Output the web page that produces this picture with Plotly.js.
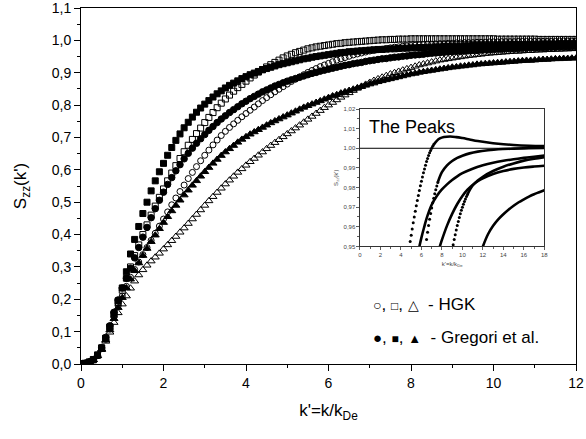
<!DOCTYPE html>
<html>
<head>
<meta charset="utf-8">
<script src="https://cdn.plot.ly/plotly-3.0.1.min.js"></script>
<style>html,body{margin:0;padding:0;background:#fff;}#chart{width:586px;height:439px;}</style>
</head>
<body>
<div id="chart"></div>
<script>
// ---------- main panel: k' values (shared) ----------
const kMain = [0,0.1,0.2,0.3,0.4,0.5,0.6,0.7,0.8,0.9,1,1.1,1.2,1.3,1.4,1.5,1.6,1.7,1.8,1.9,2,2.1,2.2,2.3,2.4,2.5,2.6,2.7,2.8,2.9,3,3.1,3.2,3.3,3.4,3.5,3.6,3.7,3.8,3.9,4,4.1,4.2,4.3,4.4,4.5,4.6,4.7,4.8,4.9,5,5.1,5.2,5.3,5.4,5.5,5.6,5.7,5.8,5.9,6,6.1,6.2,6.3,6.4,6.5,6.6,6.7,6.8,6.9,7,7.1,7.2,7.3,7.4,7.5,7.6,7.7,7.8,7.9,8,8.1,8.2,8.3,8.4,8.5,8.6,8.7,8.8,8.9,9,9.1,9.2,9.3,9.4,9.5,9.6,9.7,9.8,9.9,10,10.1,10.2,10.3,10.4,10.5,10.6,10.7,10.8,10.9,11,11.1,11.2,11.3,11.4,11.5,11.6,11.7,11.8,11.9,12];

// HGK (open markers)
const hgkSquares = [0,0.002,0.006,0.013,0.027,0.049,0.079,0.113,0.152,0.19,
0.228,0.265,0.3,0.335,0.368,0.4,0.43,0.46,0.488,0.515,
0.541,0.566,0.59,0.613,0.635,0.656,0.676,0.694,0.712,0.729,
0.746,0.762,0.777,0.792,0.806,0.819,0.831,0.843,0.854,0.864,
0.874,0.884,0.893,0.902,0.91,0.918,0.925,0.932,0.939,0.946,
0.952,0.957,0.962,0.966,0.97,0.974,0.977,0.98,0.982,0.984,
0.986,0.988,0.99,0.991,0.993,0.994,0.995,0.996,0.997,0.998,
0.999,1,1.001,1.002,1.002,1.003,1.003,1.004,1.004,1.004,
1.005,1.005,1.005,1.005,1.005,1.005,1.005,1.005,1.005,1.005,
1.005,1.005,1.005,1.005,1.005,1.005,1.005,1.005,1.005,1.005,
1.005,1.004,1.004,1.004,1.004,1.004,1.004,1.004,1.004,1.004,
1.004,1.003,1.003,1.003,1.003,1.003,1.003,1.003,1.003,1.003,
1.003];
const hgkCircles = [0,0.002,0.006,0.013,0.026,0.047,0.076,0.108,0.145,0.18,
0.21,0.24,0.268,0.292,0.315,0.338,0.36,0.382,0.404,0.426,
0.448,0.47,0.492,0.513,0.533,0.553,0.573,0.592,0.61,0.628,
0.645,0.661,0.677,0.692,0.706,0.719,0.731,0.742,0.753,0.764,
0.774,0.784,0.794,0.804,0.814,0.823,0.832,0.841,0.849,0.857,
0.865,0.873,0.88,0.887,0.894,0.901,0.907,0.913,0.919,0.924,
0.929,0.934,0.939,0.943,0.947,0.951,0.955,0.958,0.961,0.964,
0.967,0.969,0.971,0.973,0.975,0.977,0.979,0.98,0.982,0.983,
0.984,0.985,0.986,0.987,0.988,0.988,0.989,0.99,0.99,0.991,
0.991,0.992,0.992,0.993,0.993,0.993,0.994,0.994,0.994,0.995,
0.995,0.995,0.996,0.996,0.996,0.996,0.997,0.997,0.997,0.997,
0.997,0.997,0.997,0.997,0.997,0.997,0.998,0.998,0.998,0.998,
0.998];
const hgkTriangles = [0,0.002,0.006,0.013,0.025,0.044,0.07,0.098,0.128,0.158,
0.185,0.21,0.234,0.256,0.275,0.291,0.305,0.318,0.33,0.342,
0.355,0.368,0.381,0.394,0.407,0.42,0.434,0.448,0.462,0.476,
0.49,0.504,0.517,0.53,0.543,0.556,0.568,0.58,0.592,0.603,
0.614,0.625,0.635,0.645,0.655,0.665,0.675,0.684,0.693,0.702,
0.711,0.72,0.729,0.738,0.747,0.756,0.765,0.774,0.783,0.792,
0.8,0.808,0.816,0.824,0.831,0.838,0.845,0.852,0.858,0.864,
0.87,0.876,0.881,0.886,0.891,0.896,0.9,0.904,0.908,0.912,
0.916,0.92,0.924,0.927,0.93,0.933,0.936,0.939,0.941,0.943,
0.945,0.947,0.949,0.951,0.953,0.954,0.956,0.957,0.959,0.96,
0.961,0.962,0.963,0.964,0.965,0.966,0.966,0.967,0.968,0.968,
0.969,0.97,0.97,0.971,0.971,0.972,0.972,0.973,0.973,0.974,
0.974];

// Gregori et al. (filled markers)
const gregSquares = [0,0.002,0.006,0.014,0.028,0.05,0.08,0.115,0.155,0.195,
0.235,0.285,0.34,0.385,0.425,0.465,0.5,0.535,0.566,0.594,
0.62,0.645,0.669,0.691,0.711,0.73,0.747,0.763,0.778,0.791,
0.803,0.814,0.825,0.835,0.844,0.853,0.861,0.868,0.875,0.882,
0.888,0.894,0.899,0.904,0.909,0.913,0.917,0.921,0.925,0.928,
0.931,0.934,0.937,0.94,0.943,0.945,0.948,0.95,0.952,0.954,
0.956,0.958,0.96,0.962,0.963,0.965,0.966,0.967,0.968,0.969,
0.97,0.971,0.972,0.972,0.973,0.974,0.974,0.975,0.976,0.976,
0.977,0.977,0.978,0.978,0.979,0.979,0.98,0.98,0.981,0.981,
0.982,0.982,0.982,0.983,0.983,0.984,0.984,0.984,0.985,0.985,
0.985,0.986,0.986,0.986,0.987,0.987,0.987,0.987,0.988,0.988,
0.988,0.988,0.989,0.989,0.989,0.989,0.99,0.99,0.99,0.99,
0.99];
const gregCircles = [0,0.002,0.006,0.013,0.027,0.05,0.082,0.118,0.16,0.198,
0.235,0.265,0.296,0.328,0.36,0.392,0.422,0.452,0.48,0.506,
0.531,0.555,0.576,0.597,0.616,0.634,0.651,0.667,0.682,0.696,
0.709,0.722,0.734,0.746,0.757,0.767,0.777,0.786,0.795,0.804,
0.812,0.82,0.827,0.834,0.841,0.847,0.853,0.859,0.864,0.869,
0.874,0.878,0.882,0.886,0.89,0.894,0.898,0.901,0.905,0.908,
0.911,0.914,0.917,0.92,0.923,0.925,0.928,0.93,0.932,0.935,
0.937,0.939,0.941,0.943,0.944,0.946,0.948,0.949,0.951,0.952,
0.954,0.955,0.956,0.957,0.959,0.96,0.961,0.962,0.963,0.964,
0.965,0.966,0.966,0.967,0.968,0.969,0.969,0.97,0.971,0.971,
0.972,0.973,0.973,0.974,0.974,0.975,0.975,0.976,0.976,0.977,
0.977,0.978,0.978,0.978,0.979,0.979,0.98,0.98,0.98,0.981,
0.981];
const gregTriangles = [0,0.002,0.006,0.013,0.026,0.046,0.074,0.105,0.14,0.174,
0.205,0.235,0.262,0.288,0.312,0.335,0.357,0.378,0.398,0.418,
0.437,0.455,0.473,0.49,0.506,0.522,0.537,0.552,0.566,0.58,
0.594,0.607,0.62,0.632,0.644,0.655,0.665,0.675,0.685,0.694,
0.702,0.71,0.717,0.724,0.731,0.738,0.745,0.751,0.757,0.763,
0.769,0.775,0.781,0.787,0.793,0.798,0.803,0.808,0.813,0.818,
0.823,0.828,0.832,0.837,0.841,0.845,0.849,0.853,0.857,0.861,
0.865,0.868,0.872,0.875,0.878,0.881,0.884,0.887,0.89,0.893,
0.896,0.898,0.901,0.903,0.905,0.907,0.909,0.911,0.913,0.915,
0.917,0.918,0.92,0.921,0.923,0.924,0.926,0.927,0.928,0.929,
0.93,0.931,0.932,0.933,0.934,0.935,0.936,0.937,0.938,0.938,
0.939,0.94,0.941,0.941,0.942,0.943,0.943,0.944,0.944,0.945,
0.945];

// ---------- inset "The Peaks" ----------
const peakA_dotK = [4.9,5,5.1,5.2,5.3,5.4,5.5,5.6,5.7,5.8,5.9,6,6.1,6.2,6.3,6.4,6.5,6.6,6.7,6.8,6.9,7,7.1,7.2];
const peakA_dotS = [0.9525,0.9557,0.9589,0.962,0.965,0.9679,0.9707,0.9734,0.976,0.9785,0.9809,0.9832,0.9854,0.9875,0.9895,0.9914,0.9932,0.9948,0.9963,0.9977,0.9989,1.0,1.001,1.0019];
const peakA_lineK = [7.2,7.5,7.8,8.2,8.8,9.4,10,10.7,11.5,12.5,13.5,15,16.5,18];
const peakA_lineS = [1.0019,1.0038,1.005,1.0057,1.006,1.0057,1.0052,1.0045,1.0037,1.0029,1.0023,1.0017,1.0013,1.0011];

const peakB_dotK = [6.4,6.5,6.6,6.7,6.8,6.9,7,7.1,7.2,7.3,7.4,7.5,7.6];
const peakB_dotS = [0.9495,0.9535,0.9572,0.9606,0.9638,0.9668,0.9696,0.9722,0.9746,0.9768,0.9789,0.9808,0.9826];
const peakB_lineK = [7.6,8,8.5,9,9.5,10,10.7,11.5,12.5,13.5,15,16.5,18];
const peakB_lineS = [0.9826,0.9878,0.9913,0.9935,0.9951,0.9962,0.9974,0.9983,0.999,0.9995,0.9998,1.0,1.0002];

const peakC_lineK = [5.8,6,6.25,6.5,7,7.5,8,8.5,9,9.5,10,11,12,13,14,15,16,17,18];
const peakC_lineS = [0.95,0.9545,0.9595,0.9642,0.9712,0.9757,0.979,0.9816,0.9838,0.9857,0.9873,0.9896,0.9913,0.9926,0.9936,0.9944,0.9951,0.9957,0.9963];

const peakD_lineK = [7.8,8,8.5,9,9.5,10,10.5,11,11.5,12,13,14,15,16,17,18];
const peakD_lineS = [0.95,0.9533,0.9606,0.9666,0.9716,0.9757,0.9789,0.9813,0.9832,0.9847,0.9869,0.9884,0.9895,0.9902,0.9907,0.9911];

const peakE_dotK = [9.1,9.2,9.3,9.4,9.5,9.6,9.7,9.8,9.9,10,10.1,10.2,10.3,10.4,10.5];
const peakE_dotS = [0.9508,0.9535,0.956,0.9584,0.9606,0.9627,0.9647,0.9666,0.9684,0.97,0.9715,0.9729,0.9742,0.9754,0.9765];
const peakE_lineK = [10.5,11,11.5,12,13,14,15,16,17,18];
const peakE_lineS = [0.9765,0.981,0.9836,0.9855,0.9884,0.9906,0.9923,0.9937,0.9947,0.9955];

const peakF_lineK = [12,12.5,13,13.5,14,14.5,15,15.5,16,16.5,17,17.5,18];
const peakF_lineS = [0.95,0.9562,0.9605,0.9638,0.9664,0.9687,0.9707,0.9725,0.974,0.9754,0.9766,0.9776,0.9786];

const unityK = [0, 18];
const unityS = [1.0, 1.0];

// ---------- text ----------
const xTitle = "k'=k/k<sub>De</sub>";
const yTitle = "S<sub>zz</sub>(k')";
const insetTitle = "The Peaks";
const legendHGK = '<span style="font-size:14px">○</span>, <span style="font-size:12px">□</span>, <span style="font-size:14px">△</span>  - HGK';
const legendGreg = '<span style="font-size:15px">●</span>, <span style="font-size:12px">■</span>, <span style="font-size:13px">▲</span>  - Gregori et al.';

// ---------- traces ----------
function mainTrace(y, symbol, size) {
  return {x: kMain, y: y, type: 'scatter', mode: 'markers', xaxis: 'x', yaxis: 'y',
    marker: {symbol: symbol, size: size, color: '#000', line: {color: '#000', width: 1}},
    showlegend: false, hoverinfo: 'skip'};
}
function dotTrace(xs, ys) {
  return {x: xs, y: ys, type: 'scatter', mode: 'markers', xaxis: 'x2', yaxis: 'y2',
    marker: {symbol: 'circle', size: 3, color: '#000'}, showlegend: false, hoverinfo: 'skip'};
}
function lineTrace(xs, ys, w) {
  return {x: xs, y: ys, type: 'scatter', mode: 'lines', xaxis: 'x2', yaxis: 'y2',
    line: {color: '#000', width: w, shape: 'spline', smoothing: 1}, showlegend: false, hoverinfo: 'skip'};
}

const data = [
  mainTrace(hgkTriangles, 'triangle-up-open', 7),
  mainTrace(gregTriangles, 'triangle-up', 7),
  mainTrace(hgkCircles, 'circle-open', 6),
  mainTrace(gregCircles, 'circle', 6.5),
  mainTrace(hgkSquares, 'square-open', 6),
  mainTrace(gregSquares, 'square', 6),
  {x: unityK, y: unityS, type: 'scatter', mode: 'lines', xaxis: 'x2', yaxis: 'y2',
   line: {color: '#000', width: 1}, showlegend: false, hoverinfo: 'skip'},
  dotTrace(peakA_dotK, peakA_dotS), lineTrace(peakA_lineK, peakA_lineS, 2.6),
  dotTrace(peakB_dotK, peakB_dotS), lineTrace(peakB_lineK, peakB_lineS, 2.6),
  lineTrace(peakC_lineK, peakC_lineS, 2.6),
  lineTrace(peakD_lineK, peakD_lineS, 2.6),
  dotTrace(peakE_dotK, peakE_dotS), lineTrace(peakE_lineK, peakE_lineS, 2.6),
  lineTrace(peakF_lineK, peakF_lineS, 2.6)
];

const FONT = 'Liberation Sans, Arial, sans-serif';
const layout = {
  width: 586, height: 439,
  margin: {l: 81, r: 10, t: 8, b: 75},
  paper_bgcolor: '#fff', plot_bgcolor: '#fff',
  separators: ',.',
  font: {family: FONT, color: '#000', size: 14},
  showlegend: false,
  xaxis: {
    domain: [0, 1], range: [0, 12], dtick: 2, tick0: 0,
    ticks: 'outside', ticklen: 6, tickwidth: 1, tickcolor: '#000',
    minor: {dtick: 1, ticks: 'outside', ticklen: 3, tickcolor: '#000'},
    showline: true, mirror: true, linecolor: '#000', linewidth: 1,
    showgrid: false, zeroline: false, ticklabeloverflow: 'allow',
    tickfont: {size: 14},
    title: {text: xTitle, font: {size: 17}, standoff: 14}
  },
  yaxis: {
    domain: [0, 1], range: [0, 1.1001], dtick: 0.1, tick0: 0, tickformat: '.1f',
    ticks: 'outside', ticklen: 6, tickwidth: 1, tickcolor: '#000',
    minor: {dtick: 0.05, ticks: 'outside', ticklen: 3, tickcolor: '#000'},
    showline: true, mirror: true, linecolor: '#000', linewidth: 1,
    showgrid: false, zeroline: false, ticklabeloverflow: 'allow',
    tickfont: {size: 14},
    title: {text: yTitle, font: {size: 17}, standoff: 20}
  },
  xaxis2: {
    domain: [0.5636, 0.936], anchor: 'y2', range: [0, 18], dtick: 2, tick0: 0,
    ticks: 'outside', ticklen: 2.5, tickwidth: 0.8, tickcolor: '#333',
    minor: {dtick: 1, ticks: 'outside', ticklen: 1.5, tickcolor: '#333'},
    showline: true, mirror: true, linecolor: '#333', linewidth: 1,
    showgrid: false, zeroline: false,
    tickfont: {size: 6, color: '#444'},
    title: {text: xTitle, font: {size: 6, color: '#444'}, standoff: 4}
  },
  yaxis2: {
    domain: [0.3303, 0.7163], anchor: 'x2', range: [0.95, 1.02001], dtick: 0.01, tick0: 0.95, tickformat: '.2f',
    ticks: 'outside', ticklen: 2.5, tickwidth: 0.8, tickcolor: '#333',
    minor: {dtick: 0.005, ticks: 'outside', ticklen: 1.5, tickcolor: '#333'},
    showline: true, mirror: true, linecolor: '#333', linewidth: 1,
    showgrid: false, zeroline: false,
    tickfont: {size: 6, color: '#444'},
    title: {text: yTitle, font: {size: 6, color: '#444'}, standoff: 4}
  },
  annotations: [
    {text: insetTitle, xref: 'x2 domain', yref: 'y2 domain', x: 0.04, y: 0.87,
     xanchor: 'left', yanchor: 'middle', showarrow: false, font: {size: 18, color: '#000'}},
    {text: legendHGK, xref: 'paper', yref: 'paper', x: 0.586, y: 0.167,
     xanchor: 'left', yanchor: 'middle', showarrow: false, font: {size: 17, color: '#000'}},
    {text: legendGreg, xref: 'paper', yref: 'paper', x: 0.586, y: 0.074,
     xanchor: 'left', yanchor: 'middle', showarrow: false, font: {size: 17, color: '#000'}}
  ]
};

Plotly.newPlot('chart', data, layout, {staticPlot: true, displayModeBar: false});
</script>
</body>
</html>
